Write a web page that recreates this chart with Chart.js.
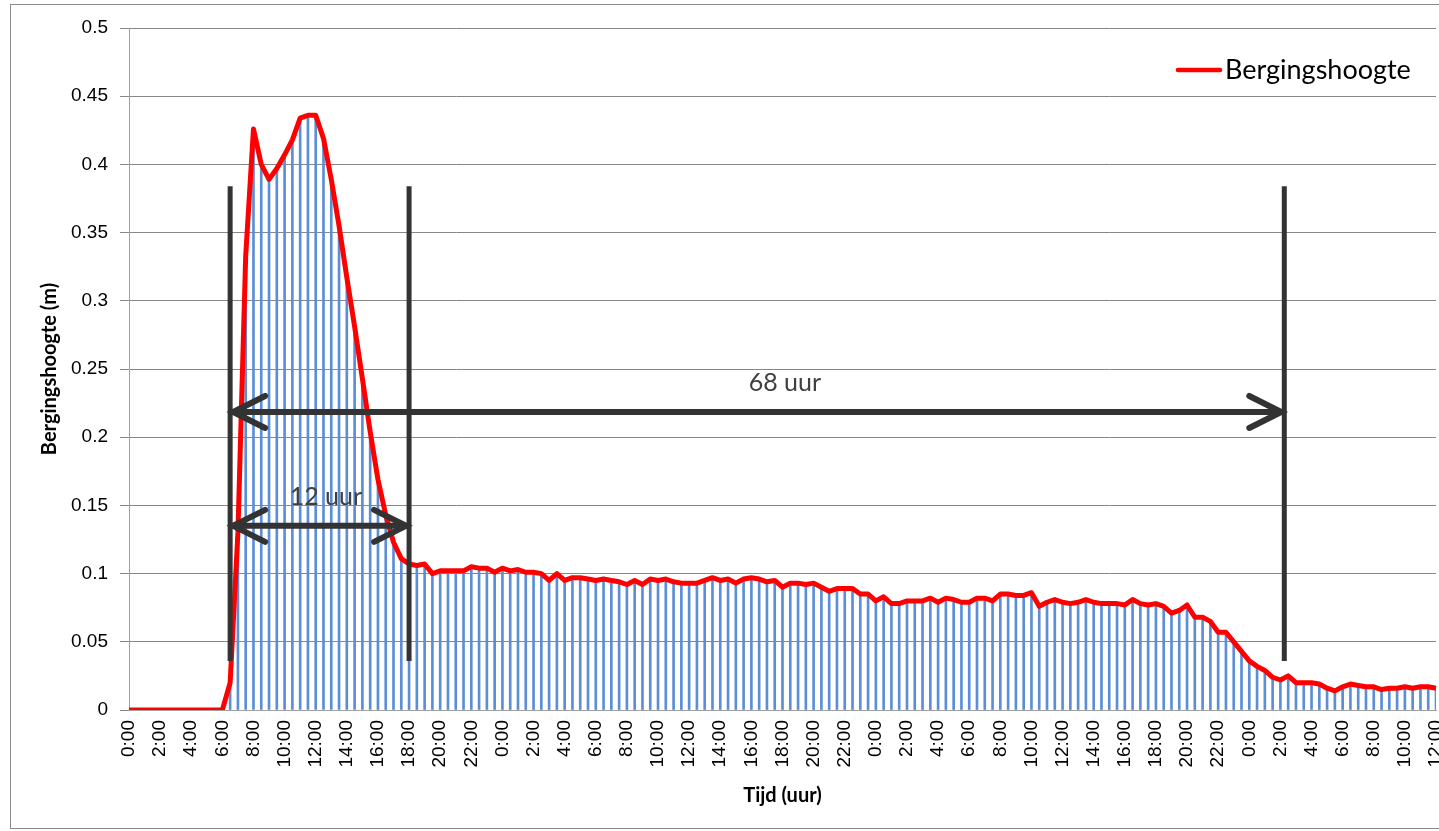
<!DOCTYPE html>
<html lang="nl">
<head>
<meta charset="utf-8">
<title>Bergingshoogte</title>
<script src="https://cdn.jsdelivr.net/npm/chart.js@4.4.1/dist/chart.umd.min.js"></script>
<style>
  html, body { margin: 0; padding: 0; background: #fff; overflow: hidden; }
  canvas { display: block; }
</style>
</head>
<body>
<canvas id="grafiek" width="1439" height="831"></canvas>
<script>
// Bergingshoogte (m) per half uur
const dag1 = [
  0, 0, 0, 0, 0, 0, 0, 0, 0, 0, 0, 0,
  0, 0.020, 0.130, 0.333, 0.426, 0.400, 0.389, 0.397, 0.407, 0.418, 0.434, 0.436,
  0.436, 0.419, 0.389, 0.355, 0.317, 0.281, 0.243, 0.204, 0.169, 0.143, 0.123, 0.111,
  0.107, 0.106, 0.107, 0.100, 0.102, 0.102, 0.102, 0.102, 0.105, 0.104, 0.104, 0.101
];
const dag2 = [
  0.104, 0.102, 0.103, 0.101, 0.101, 0.100, 0.095, 0.100, 0.095, 0.097, 0.097, 0.096,
  0.095, 0.096, 0.095, 0.094, 0.092, 0.095, 0.092, 0.096, 0.095, 0.096, 0.094, 0.093,
  0.093, 0.093, 0.095, 0.097, 0.095, 0.096, 0.093, 0.096, 0.097, 0.096, 0.094, 0.095,
  0.090, 0.093, 0.093, 0.092, 0.093, 0.090, 0.087, 0.089, 0.089, 0.089, 0.085, 0.085
];
const dag3 = [
  0.080, 0.083, 0.078, 0.078, 0.080, 0.080, 0.080, 0.082, 0.079, 0.082, 0.081, 0.079,
  0.079, 0.082, 0.082, 0.080, 0.085, 0.085, 0.084, 0.084, 0.086, 0.076, 0.079, 0.081,
  0.079, 0.078, 0.079, 0.081, 0.079, 0.078, 0.078, 0.078, 0.077, 0.081, 0.078, 0.077,
  0.078, 0.076, 0.071, 0.073, 0.077, 0.068, 0.068, 0.065, 0.057, 0.057, 0.050, 0.043
];
const dag4 = [
  0.036, 0.032, 0.029, 0.024, 0.022, 0.025, 0.020, 0.020, 0.020, 0.019, 0.016, 0.014,
  0.017, 0.019, 0.018, 0.017, 0.017, 0.015, 0.016, 0.016, 0.017, 0.016, 0.017, 0.017,
  0.016
];

const bergingshoogte = [...dag1, ...dag2, ...dag3, ...dag4];

// aslabels om de 2 uur
const uren = ['0:00', '2:00', '4:00', '6:00', '8:00', '10:00', '12:00', '14:00', '16:00', '18:00', '20:00', '22:00'];
const tickLabels = [...uren, ...uren, ...uren, ...uren.slice(0, 7)];

// categorieën: elk half uur
const tijden = [];
for (let i = 0; i < bergingshoogte.length; i++) {
  const h = Math.floor(i / 2) % 24;
  tijden.push(h + (i % 2 === 0 ? ':00' : ':30'));
}

// markeringen (index op de tijdas, hoogte in m)
const lijnenX = [13, 36, 148.5];
const lijnVan = 0.036, lijnTot = 0.384;
const pijlen = [
  { van: 13, tot: 148.5, hoogte: 0.2185 },
  { van: 13, tot: 36, hoogte: 0.135 }
];
const teksten = [
  { tekst: '68 uur', x: 84.3, hoogte: 0.240 },
  { tekst: '12 uur', x: 25.3, hoogte: 0.156 }
];

function lijn(ctx, x1, y1, x2, y2) {
  ctx.beginPath();
  ctx.moveTo(x1, y1);
  ctx.lineTo(x2, y2);
  ctx.stroke();
}

function pijlpunt(ctx, x, y, richting) {
  ctx.beginPath();
  ctx.moveTo(x + richting * 32, y - 16);
  ctx.lineTo(x, y);
  ctx.lineTo(x + richting * 32, y + 16);
  ctx.stroke();
}

const annotaties = {
  id: 'annotaties',
  beforeDraw(chart) {
    const ctx = chart.ctx;
    ctx.save();
    ctx.fillStyle = '#fff';
    ctx.fillRect(0, 0, chart.width, chart.height);
    ctx.strokeStyle = '#8a8a8a';
    ctx.lineWidth = 1;
    ctx.strokeRect(10.5, 4.5, chart.width + 20, chart.height - 7);
    ctx.restore();
  },
  afterDatasetsDraw(chart) {
    const { ctx, scales: { x, y } } = chart;
    ctx.save();
    ctx.strokeStyle = '#333333';

    ctx.lineWidth = 5;
    ctx.lineCap = 'butt';
    lijnenX.forEach(i => {
      const px = x.getPixelForValue(i);
      lijn(ctx, px, y.getPixelForValue(lijnTot), px, y.getPixelForValue(lijnVan));
    });

    ctx.lineWidth = 6;
    ctx.lineCap = 'round';
    ctx.lineJoin = 'miter';
    pijlen.forEach(p => {
      const x1 = x.getPixelForValue(p.van) + 3;
      const x2 = x.getPixelForValue(p.tot) - 3;
      const py = y.getPixelForValue(p.hoogte);
      lijn(ctx, x1, py, x2, py);
      pijlpunt(ctx, x1, py, 1);
      pijlpunt(ctx, x2, py, -1);
    });

    ctx.fillStyle = '#404040';
    ctx.font = '25px Lato';
    ctx.textAlign = 'center';
    ctx.textBaseline = 'middle';
    teksten.forEach(t => {
      ctx.fillText(t.tekst, x.getPixelForValue(t.x), y.getPixelForValue(t.hoogte));
    });
    ctx.restore();
  },
  afterDraw(chart) {
    const { ctx, chartArea } = chart;
    const lx = chartArea.right - 258;
    const ly = chartArea.top + 42;
    ctx.save();
    ctx.strokeStyle = '#ff0000';
    ctx.lineWidth = 4.5;
    ctx.lineCap = 'round';
    lijn(ctx, lx, ly, lx + 42, ly);
    ctx.fillStyle = '#000';
    ctx.font = '27px Lato';
    ctx.textAlign = 'left';
    ctx.textBaseline = 'middle';
    ctx.fillText('Bergingshoogte', lx + 47, ly);
    ctx.restore();
  }
};

const tickFont = { family: 'Liberation Sans', size: 19 };
const titelFont = { family: 'Lato', weight: 'bold', size: 20 };

new Chart(document.getElementById('grafiek').getContext('2d'), {
  type: 'bar',
  data: {
    labels: tijden,
    datasets: [
      {
        type: 'line',
        label: 'Bergingshoogte',
        data: bergingshoogte,
        borderColor: '#ff0000',
        borderWidth: 5,
        pointRadius: 0,
        tension: 0,
        fill: false,
        borderJoinStyle: 'round',
        order: 0
      },
      {
        label: 'staven',
        data: bergingshoogte,
        backgroundColor: '#5b8ed6',
        borderWidth: 0,
        barThickness: 2,
        order: 1
      }
    ]
  },
  options: {
    responsive: false,
    animation: false,
    devicePixelRatio: 1,
    layout: { padding: { left: 0, right: 3, top: 28, bottom: 0 } },
    plugins: {
      legend: { display: false },
      tooltip: { enabled: false }
    },
    scales: {
      x: {
        offset: false,
        grid: { display: false, drawTicks: false },
        border: { display: true, color: '#a0a0a0' },
        ticks: {
          autoSkip: false,
          maxRotation: 90,
          minRotation: 90,
          padding: 10,
          color: '#000',
          font: tickFont,
          callback: (v, i) => (i % 4 === 0 ? tickLabels[i / 4] : null)
        },
        title: {
          display: true,
          text: 'Tijd (uur)',
          color: '#000',
          font: titelFont,
          padding: { top: 0, bottom: 23 }
        },
        afterFit(scale) {
          scale.height = 121;
          scale.paddingLeft = 0;
          scale.paddingRight = 0;
        }
      },
      y: {
        min: 0,
        max: 0.5,
        grid: { color: '#878787', tickLength: 9 },
        border: { color: '#a0a0a0' },
        ticks: {
          stepSize: 0.05,
          padding: 12,
          color: '#000',
          font: tickFont,
          callback: v => String(parseFloat(v.toFixed(2)))
        },
        title: {
          display: true,
          text: 'Bergingshoogte (m)',
          color: '#000',
          font: titelFont,
          padding: { top: 38, bottom: 0 }
        },
        afterFit(scale) {
          scale.width = 129;
        }
      }
    }
  },
  plugins: [annotaties]
});
</script>
</body>
</html>
